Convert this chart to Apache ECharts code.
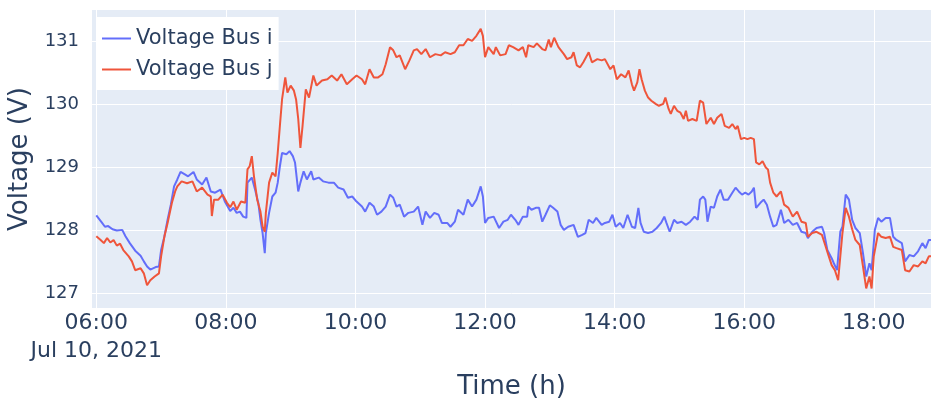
<!DOCTYPE html>
<html>
<head>
<meta charset="utf-8">
<script src="https://cdn.jsdelivr.net/npm/echarts@6/dist/echarts.min.js"></script>
<style>
  html, body { margin: 0; padding: 0; background: #fff; }
  #voltage_chart { width: 931px; height: 401px; }
</style>
</head>
<body>
<div id="voltage_chart"></div>
<script>
// minutes after 06:00 on Jul 10, 2021
const minutesBusI = [0,5,8,11,15,19,24,27,31,36,41,44,47,50,55,58,60,63,66,69,72,75,78,82,85,90,93,98,102,106,110,115,119,124,127,130,133,136,139,140,144,147,150,152,154,156,157,160,163,166,168,170,172,176,179,182,184,187,189,192,195,199,201,206,210,215,220,224,229,233,237,241,246,249,253,257,260,264,268,272,275,278,281,285,289,294,298,302,305,309,313,317,320,325,328,332,335,340,344,348,352,356,358,360,363,368,373,377,381,384,388,391,395,399,400,403,407,410,413,416,420,423,427,430,433,437,442,446,450,453,456,460,463,468,471,475,478,481,485,488,492,496,499,502,504,507,511,515,519,523,526,528,531,535,538,542,546,550,554,557,559,562,564,566,569,572,575,578,581,585,589,592,595,598,601,604,607,609,611,615,618,621,624,627,630,634,637,641,645,649,653,657,659,663,667,672,674,677,681,683,686,689,691,694,697,700,703,707,710,713,716,718,721,724,727,731,735,738,741,746,749,753,757,761,765,768,771,775];
const voltsBusI = [128.23,128.12,128.05,128.06,128.01,127.99,128.0,127.9,127.79,127.67,127.59,127.5,127.42,127.37,127.41,127.42,127.68,127.89,128.16,128.4,128.69,128.8,128.92,128.88,128.85,128.92,128.8,128.72,128.83,128.61,128.59,128.64,128.45,128.3,128.35,128.27,128.29,128.21,128.19,128.75,128.83,128.64,128.43,128.16,127.95,127.63,127.95,128.27,128.53,128.59,128.75,129.01,129.22,129.2,129.25,129.17,129.07,128.61,128.75,128.93,128.8,128.93,128.8,128.83,128.77,128.75,128.75,128.67,128.64,128.51,128.53,128.45,128.37,128.29,128.43,128.37,128.24,128.29,128.37,128.56,128.51,128.37,128.4,128.21,128.27,128.29,128.37,128.08,128.29,128.19,128.27,128.24,128.11,128.11,128.05,128.13,128.32,128.24,128.48,128.37,128.48,128.69,128.53,128.11,128.19,128.21,128.03,128.13,128.16,128.24,128.16,128.08,128.21,128.21,128.37,128.32,128.35,128.35,128.13,128.24,128.39,128.35,128.29,128.08,128.0,128.05,128.08,127.89,127.92,127.95,128.16,128.11,128.19,128.08,128.11,128.13,128.24,128.05,128.11,128.03,128.24,128.05,128.03,128.35,128.11,127.97,127.95,127.97,128.03,128.11,128.21,128.11,127.97,128.16,128.11,128.13,128.08,128.13,128.21,128.16,128.48,128.53,128.48,128.13,128.37,128.35,128.53,128.64,128.48,128.48,128.59,128.67,128.61,128.56,128.59,128.56,128.61,128.67,128.35,128.43,128.48,128.4,128.21,128.05,128.08,128.32,128.11,128.16,128.08,128.11,127.97,127.95,127.87,127.97,128.03,128.05,127.95,127.68,127.55,127.47,127.36,127.97,128.05,128.56,128.48,128.16,128.03,127.95,127.63,127.26,127.47,127.36,128.0,128.19,128.13,128.19,128.19,127.89,127.84,127.79,127.5,127.6,127.58,127.66,127.79,127.71,127.84,127.84];

const minutesBusJ = [0,4,7,10,13,16,19,22,25,30,33,36,41,44,47,50,54,58,60,63,66,70,73,75,79,84,89,93,98,103,106,107,109,113,117,121,124,127,130,134,138,140,142,144,146,149,152,154,156,157,160,163,166,168,170,172,175,177,180,183,185,187,189,191,194,197,201,204,209,214,218,223,227,232,237,241,246,249,253,257,261,265,268,272,275,278,281,286,290,294,297,301,305,309,314,319,323,328,332,336,340,344,348,352,356,358,360,363,368,370,374,379,382,386,391,395,398,400,405,408,413,416,419,421,424,428,433,436,440,442,445,448,451,456,459,464,468,471,476,479,482,486,490,493,496,498,501,503,505,508,511,514,518,521,525,527,530,532,535,538,541,544,546,548,552,556,559,562,565,569,572,575,579,582,586,589,592,594,597,600,603,606,609,611,614,617,620,622,624,627,630,634,637,641,645,649,653,657,659,663,667,672,675,678,681,684,687,689,691,694,697,700,703,707,710,713,716,718,720,724,727,731,735,738,741,746,749,753,757,761,765,768,771,775];
const voltsBusJ = [127.9,127.84,127.79,127.87,127.8,127.84,127.75,127.78,127.68,127.58,127.5,127.36,127.39,127.31,127.12,127.2,127.26,127.31,127.58,127.89,128.11,128.43,128.61,128.69,128.77,128.74,128.77,128.61,128.67,128.56,128.53,128.22,128.48,128.48,128.56,128.43,128.36,128.45,128.32,128.45,128.43,128.96,129.01,129.17,128.85,128.48,128.29,128.05,127.97,128.27,128.75,128.91,128.85,129.22,129.65,130.07,130.42,130.18,130.29,130.21,130.07,129.76,129.3,129.65,130.23,130.1,130.45,130.29,130.37,130.39,130.45,130.37,130.47,130.31,130.39,130.45,130.39,130.31,130.55,130.42,130.42,130.47,130.63,130.9,130.85,130.74,130.77,130.55,130.69,130.85,130.87,130.79,130.87,130.74,130.79,130.77,130.82,130.79,130.82,130.93,130.93,131.03,131.0,131.08,131.19,131.08,130.74,130.9,130.79,130.9,130.77,130.79,130.93,130.9,130.85,130.9,130.74,130.93,130.9,130.96,130.87,130.85,131.02,130.9,131.05,130.9,130.79,130.71,130.74,130.82,130.61,130.58,130.66,130.82,130.66,130.71,130.69,130.71,130.55,130.61,130.39,130.47,130.42,130.53,130.31,130.21,130.34,130.55,130.39,130.21,130.1,130.05,130.0,129.97,130.0,130.1,129.92,129.84,129.97,129.89,129.86,129.76,129.89,129.73,129.76,129.73,130.05,130.02,129.68,129.78,129.68,129.78,129.84,129.65,129.62,129.68,129.6,129.65,129.44,129.46,129.44,129.46,129.44,129.07,129.04,129.09,128.99,128.96,128.75,128.59,128.53,128.61,128.4,128.35,128.21,128.29,128.13,128.11,127.89,127.95,127.97,127.92,127.76,127.6,127.44,127.36,127.2,127.58,127.95,128.35,128.21,128.01,127.84,127.76,127.42,127.07,127.26,127.07,127.58,127.95,127.89,127.87,127.89,127.73,127.71,127.68,127.36,127.34,127.44,127.42,127.5,127.47,127.58,127.58];

const timeTicks = [0, 120, 240, 360, 480, 600, 720];
const voltTicks = [127, 128, 129, 130, 131];
const seriesNames = ['Voltage Bus i', 'Voltage Bus j'];

const textColor = '#2a3f5f';
const fontFamily = '"DejaVu Sans", Verdana, sans-serif';

function toPairs(mins, volts) {
  return mins.map((m, i) => [m, volts[i]]);
}

function timeLabel(v) {
  const total = 6 * 60 + v;
  const hh = String(Math.floor(total / 60)).padStart(2, '0');
  const mm = String(total % 60).padStart(2, '0');
  const s = hh + ':' + mm;
  return v === 0 ? s + '\nJul 10, 2021' : s;
}

const option = {
  animation: false,
  textStyle: { fontFamily: fontFamily },
  grid: {
    left: 92, top: 10, right: 0, bottom: 93,
    show: true, backgroundColor: '#E5ECF6', borderWidth: 0,
    outerBoundsMode: 'none'
  },
  legend: {
    data: seriesNames,
    orient: 'vertical',
    left: 97, top: 17,
    backgroundColor: '#ffffff',
    padding: [11, 6, 10, 5],
    icon: 'rect',
    itemWidth: 29, itemHeight: 2, itemGap: 10,
    textStyle: { fontSize: 21, color: textColor, fontFamily: fontFamily }
  },
  xAxis: {
    type: 'value',
    min: -4, max: 773,
    name: 'Time (h)',
    nameLocation: 'middle',
    nameGap: 66,
    nameTextStyle: { fontSize: 26, color: textColor, fontFamily: fontFamily },
    axisLine: { show: false },
    axisTick: { show: false, customValues: timeTicks },
    axisLabel: {
      customValues: timeTicks,
      formatter: timeLabel,
      fontSize: 22, lineHeight: 28, color: textColor, margin: 1,
      fontFamily: fontFamily
    },
    splitLine: { show: true, lineStyle: { color: '#ffffff', width: 1 } }
  },
  yAxis: {
    type: 'value',
    min: 126.76, max: 131.49,
    name: 'Voltage (V)',
    nameLocation: 'middle',
    nameGap: 54,
    nameTextStyle: { fontSize: 26, color: textColor, fontFamily: fontFamily },
    axisLine: { show: false },
    axisTick: { show: false, customValues: voltTicks },
    axisLabel: {
      customValues: voltTicks,
      formatter: (v) => String(v),
      fontSize: 18, color: textColor, margin: 13,
      fontFamily: fontFamily
    },
    splitLine: { show: true, lineStyle: { color: '#ffffff', width: 1 } }
  },
  series: [
    {
      name: seriesNames[0],
      type: 'line',
      symbol: 'none',
      color: '#636EFA',
      lineStyle: { width: 2 },
      data: toPairs(minutesBusI, voltsBusI)
    },
    {
      name: seriesNames[1],
      type: 'line',
      symbol: 'none',
      color: '#EF553B',
      lineStyle: { width: 2 },
      data: toPairs(minutesBusJ, voltsBusJ)
    }
  ]
};

const chartDom = document.getElementById('voltage_chart');
const myChart = echarts.init(chartDom);
myChart.setOption(option);
</script>
</body>
</html>
